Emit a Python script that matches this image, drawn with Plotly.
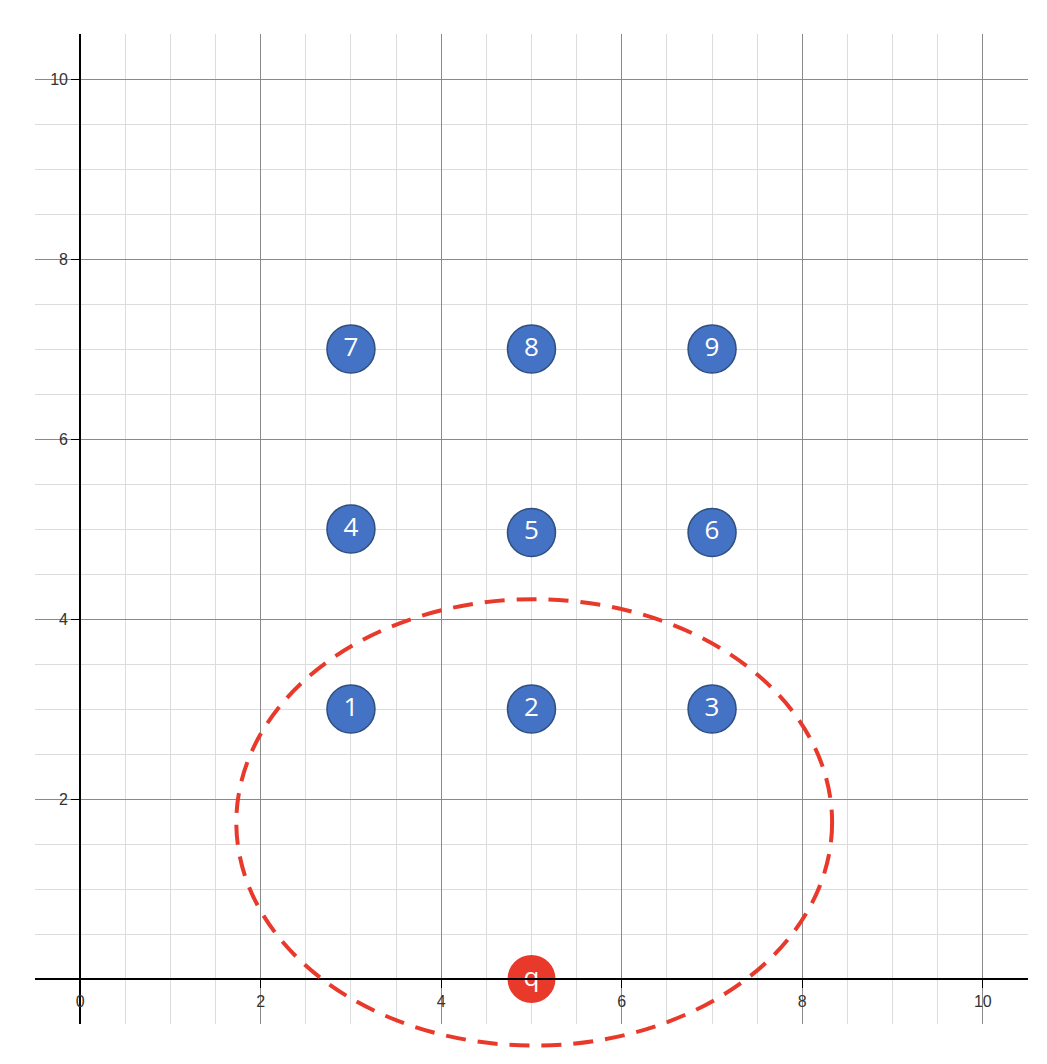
import plotly.graph_objects as go

xs = [3, 5, 7, 3, 5, 7, 3, 5, 7]
ys = [3, 3, 3, 5, 4.96, 4.96, 7, 7, 7]
labels = ["1", "2", "3", "4", "5", "6", "7", "8", "9"]
qx, qy = [5], [0]
ell_cx, ell_cy, ell_rx, ell_ry = 5.03, 1.74, 3.3, 2.48
xr = [-0.5, 10.5]
yr = [-0.5, 10.5]

fig = go.Figure()
fig.add_trace(go.Scatter(x=xs, y=ys, mode="markers+text", text=labels,
    marker=dict(size=48, color="#4472C4", line=dict(color="#2F4F7F", width=1.5)),
    textfont=dict(color="white", size=26, family="Open Sans"), textposition="middle center",
    cliponaxis=False, showlegend=False))
fig.add_trace(go.Scatter(x=qx, y=qy, mode="markers+text", text=["q"],
    marker=dict(size=48, color="#E8392A"),
    textfont=dict(color="white", size=26, family="Open Sans"), textposition="middle center",
    cliponaxis=False, showlegend=False))

def px(v, r): return (v - r[0]) / (r[1] - r[0])
fig.add_shape(type="circle", xref="paper", yref="paper",
    x0=px(ell_cx - ell_rx, xr), x1=px(ell_cx + ell_rx, xr),
    y0=px(ell_cy - ell_ry, yr), y1=px(ell_cy + ell_ry, yr),
    line=dict(color="#E8392A", width=4, dash="20px,12px"), layer="above")

common = dict(showgrid=True, gridcolor="#8a8a8a", gridwidth=1, dtick=2, tick0=0,
    minor=dict(dtick=0.5, showgrid=True, gridcolor="#dcdcdc", gridwidth=1),
    zeroline=False, showline=True, linecolor="black", linewidth=2,
    ticks="outside", ticklen=8, tickcolor="black", automargin=False,
    tickfont=dict(size=16, color="#333", family="Liberation Sans"), anchor="free")
fig.update_xaxes(range=xr, position=px(0, yr), tickvals=[0, 2, 4, 6, 8, 10],
    ticktext=["0", "2", "4", "6", "8", "10"], **common)
fig.update_yaxes(range=yr, position=px(0, xr), tickvals=[2, 4, 6, 8, 10], **common)
fig.update_layout(width=1047, height=1064, margin=dict(l=27, r=27, t=26, b=48),
    plot_bgcolor="white", paper_bgcolor="white")
fig.write_html("out.html")
